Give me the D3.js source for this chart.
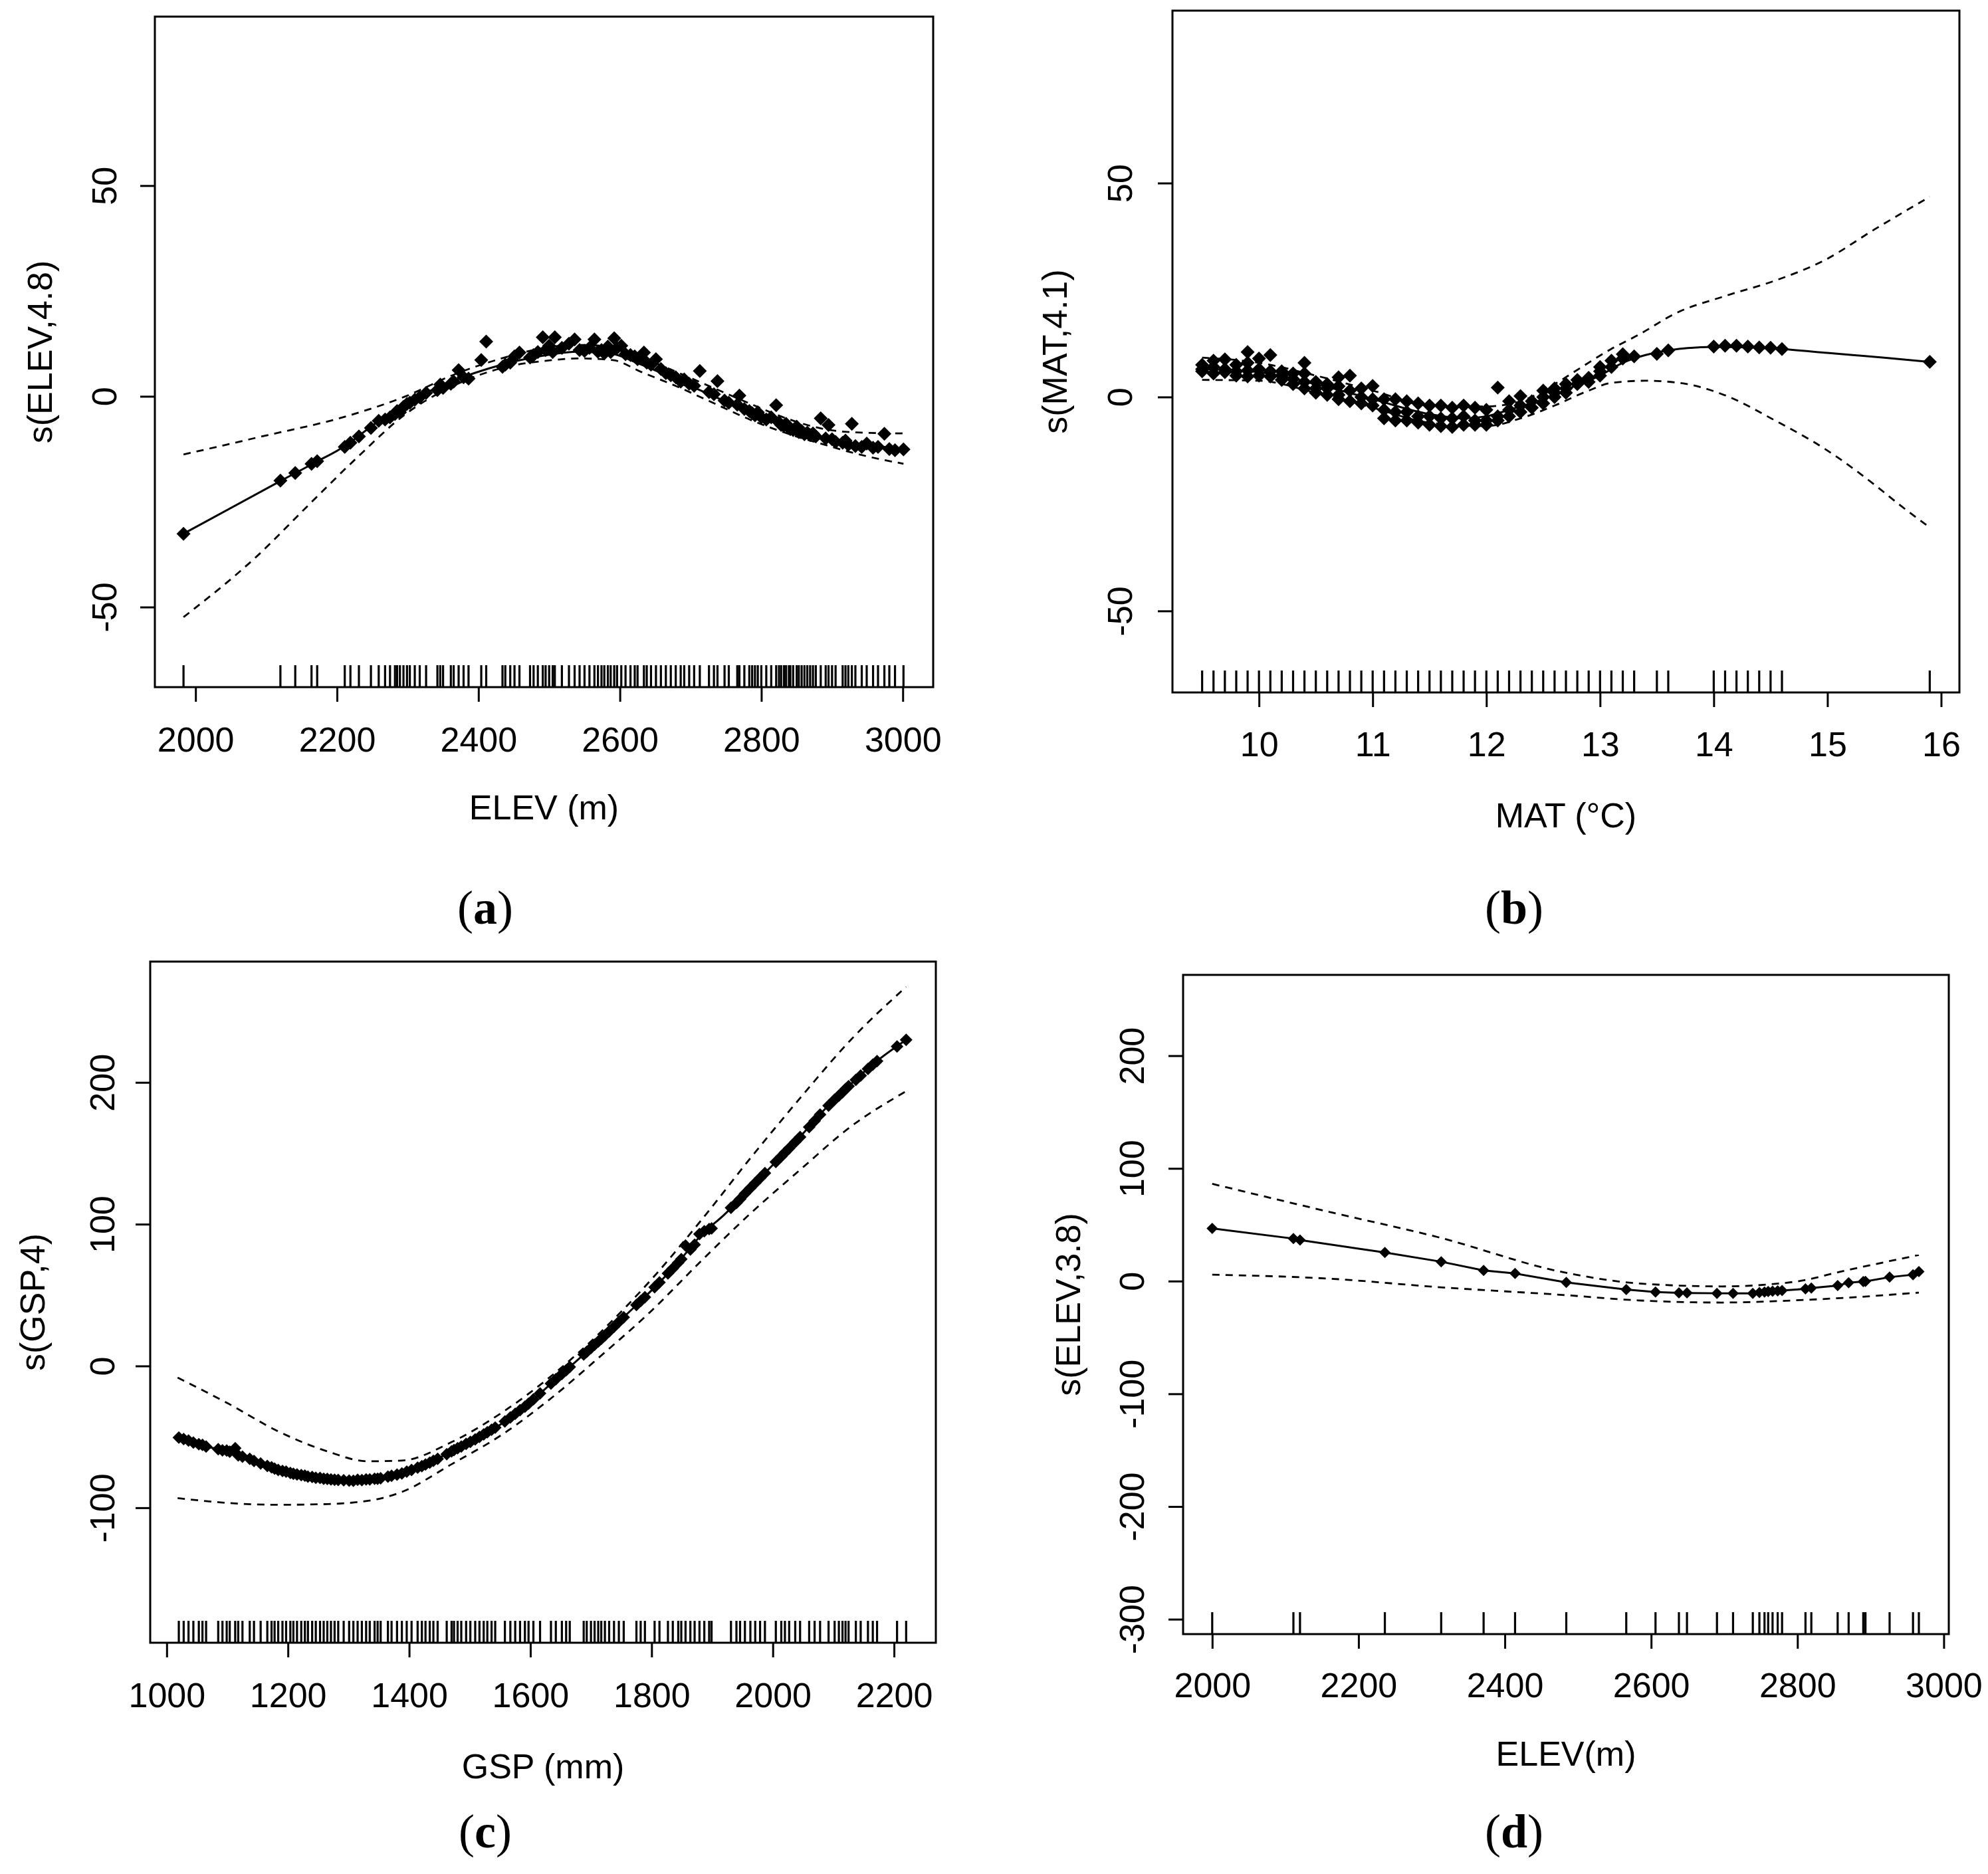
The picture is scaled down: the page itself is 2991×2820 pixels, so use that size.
<!DOCTYPE html>
<html><head><meta charset="utf-8">
<script src="https://cdn.jsdelivr.net/npm/d3@7"></script>
<style>body{margin:0;background:#fff}</style>
</head><body>
<svg id="chart" width="2991" height="2820"></svg>
<script>
// ---------------- DATA ----------------
// (a) ELEV partial effect: points [ELEV, s(ELEV)]
const ptsA = [[1983,-32.6],[2120,-20.0],[2141,-18.2],[2164,-16.0],[2172,-15.4],[2211,-12.0],[2219,-11.0],[2231,-9.5],[2248,-7.5],[2259,-5.8],[2268,-5.5],[2275,-5.0],[2282,-4.2],[2285,-3.5],[2289,-3.8],[2294,-2.5],[2299,-1.8],[2303,-1.5],[2310,-0.8],[2317,-0.2],[2326,0.8],[2342,1.5],[2346,2.8],[2350,2.0],[2361,3.0],[2365,3.5],[2372,6.2],[2379,4.5],[2386,4.2],[2404,8.6],[2411,13.0],[2434,7.0],[2438,7.5],[2445,8.0],[2451,9.5],[2458,10.4],[2473,9.2],[2478,9.8],[2484,10.5],[2491,14.0],[2495,11.0],[2500,12.0],[2505,10.5],[2508,14.0],[2518,11.5],[2528,12.5],[2536,13.5],[2543,11.0],[2550,10.8],[2557,11.5],[2564,13.5],[2569,10.6],[2574,11.0],[2578,10.2],[2583,11.8],[2587,10.5],[2592,13.8],[2596,11.5],[2602,12.0],[2608,10.0],[2615,9.8],[2621,9.5],[2625,8.8],[2634,10.4],[2638,8.0],[2644,7.5],[2651,8.8],[2658,6.5],[2665,5.5],[2672,5.0],[2679,4.5],[2686,3.5],[2691,4.0],[2698,3.0],[2705,2.5],[2713,6.0],[2726,1.0],[2733,0.5],[2738,3.6],[2748,-1.0],[2754,-1.5],[2766,-2.0],[2769,0.2],[2776,-3.0],[2783,-3.5],[2787,-4.0],[2791,-4.5],[2795,-3.8],[2800,-5.0],[2807,-5.5],[2814,-5.0],[2821,-2.1],[2825,-6.2],[2828,-6.8],[2832,-7.0],[2835,-6.5],[2839,-7.5],[2841,-7.8],[2845,-8.0],[2850,-7.2],[2853,-8.5],[2857,-8.2],[2861,-9.0],[2865,-8.6],[2869,-9.2],[2873,-8.8],[2877,-9.5],[2884,-5.2],[2891,-10.0],[2895,-6.8],[2900,-10.2],[2905,-10.8],[2915,-11.0],[2919,-10.5],[2923,-11.5],[2928,-6.5],[2933,-11.8],[2942,-12.0],[2949,-11.2],[2958,-12.2],[2965,-12.0],[2974,-8.9],[2981,-12.5],[2989,-12.8],[3001,-12.6]];
const fitA = [[1983,-32.6],[2120,-20.1],[2169,-15.7],[2214,-11.5],[2248,-7.2],[2297,-1.6],[2338,1.8],[2394,5.5],[2435,7.6],[2505,10.0],[2539,10.6],[2588,10.1],[2629,7.6],[2678,4.1],[2733,0.0],[2782,-3.7],[2837,-7.3],[2886,-9.6],[2934,-11.2],[3001,-12.4]];
const upperA = [[1983,-13.8],[2089,-9.7],[2214,-4.7],[2297,0.0],[2366,5.2],[2435,9.1],[2505,11.8],[2540,12.2],[2590,11.8],[2630,9.3],[2680,5.8],[2735,1.8],[2785,-1.8],[2840,-5.5],[2890,-7.8],[2940,-8.6],[3001,-8.8]];
const lowerA = [[1983,-52.4],[2089,-37.6],[2158,-26.1],[2228,-14.6],[2297,-4.2],[2366,2.6],[2435,6.8],[2505,8.6],[2540,9.0],[2590,8.6],[2630,5.8],[2680,2.4],[2735,-1.8],[2785,-5.6],[2840,-9.0],[2890,-11.5],[2934,-13.6],[3001,-16.0]];

// (b) MAT partial effect
const ptsB = [[9.5,7.5],[9.5,6.5],[9.5,6.0],[9.6,8.5],[9.6,7.0],[9.6,5.5],[9.7,8.8],[9.7,6.5],[9.7,5.8],[9.8,7.5],[9.8,6.0],[9.8,5.0],[9.9,10.5],[9.9,8.0],[9.9,6.2],[9.9,4.8],[10.0,9.0],[10.0,6.5],[10.0,5.0],[10.1,9.8],[10.1,6.0],[10.1,4.8],[10.2,6.0],[10.2,5.0],[10.2,4.0],[10.3,5.5],[10.3,4.2],[10.3,3.0],[10.4,8.0],[10.4,5.5],[10.4,3.5],[10.4,2.0],[10.5,3.5],[10.5,2.0],[10.5,1.0],[10.6,3.0],[10.6,2.0],[10.6,0.5],[10.7,4.6],[10.7,2.5],[10.7,0.5],[10.7,-0.5],[10.8,5.0],[10.8,1.5],[10.8,-1.0],[10.9,2.0],[10.9,0.0],[10.9,-1.5],[11.0,2.6],[11.0,-0.5],[11.0,-2.0],[11.1,-0.5],[11.1,-3.0],[11.1,-5.0],[11.2,-0.5],[11.2,-3.5],[11.2,-5.5],[11.3,-1.0],[11.3,-3.5],[11.3,-5.5],[11.4,-1.5],[11.4,-4.5],[11.4,-6.0],[11.5,-2.0],[11.5,-4.5],[11.5,-6.5],[11.6,-2.0],[11.6,-5.0],[11.6,-6.8],[11.7,-2.5],[11.7,-5.0],[11.7,-7.0],[11.8,-2.0],[11.8,-4.5],[11.8,-6.5],[11.9,-2.5],[11.9,-5.5],[11.9,-6.5],[12.0,-3.0],[12.0,-5.5],[12.0,-6.5],[12.1,2.2],[12.1,-4.5],[12.1,-5.5],[12.2,-1.0],[12.2,-3.0],[12.2,-4.5],[12.3,0.2],[12.3,-2.0],[12.3,-3.5],[12.4,-1.0],[12.4,-2.5],[12.5,1.5],[12.5,0.0],[12.5,-1.5],[12.6,2.0],[12.6,1.0],[12.6,0.0],[12.7,3.0],[12.7,2.0],[12.7,1.0],[12.8,4.0],[12.8,3.0],[12.9,4.5],[12.9,3.5],[13.0,7.0],[13.0,6.0],[13.0,5.0],[13.1,8.5],[13.1,7.0],[13.2,10.0],[13.2,9.0],[13.3,9.5],[13.5,10.1],[13.6,10.9],[14.0,11.8],[14.1,12.0],[14.2,12.0],[14.3,11.8],[14.4,11.6],[14.5,11.5],[14.6,11.2],[15.9,8.2]];
const fitB = [[9.5,6.5],[10.0,5.8],[10.5,3.0],[11.0,-0.5],[11.5,-4.0],[11.8,-5.0],[12.0,-4.5],[12.2,-3.0],[12.5,-0.5],[12.8,2.8],[13.0,5.0],[13.2,8.0],[13.4,9.8],[13.6,10.9],[14.0,11.7],[14.3,11.6],[14.6,11.2],[15.0,10.3],[15.5,9.2],[15.9,8.2]];
const upperB = [[9.5,9.2],[10.0,8.0],[10.5,5.0],[11.0,1.5],[11.5,-2.0],[12.0,-2.2],[12.3,-1.0],[12.6,3.0],[12.78,6.0],[13.09,11.1],[13.35,14.7],[13.66,19.5],[14.1,23.6],[14.54,27.2],[14.97,31.9],[15.41,39.1],[15.9,46.8]];
const lowerB = [[9.5,4.0],[10.0,3.8],[10.5,1.0],[11.0,-2.5],[11.5,-6.0],[12.0,-6.8],[12.3,-5.0],[12.6,-2.0],[12.9,1.5],[13.1,3.3],[13.4,3.8],[13.7,3.3],[14.1,0.4],[14.54,-5.5],[14.97,-12.0],[15.41,-20.4],[15.63,-25.1],[15.9,-30.5]];

// (c) GSP partial effect
const ptsC = [[1020,-50.5],[1028,-51.6],[1036,-52.6],[1044,-54.0],[1053,-55.2],[1059,-55.6],[1065,-56.8],[1085,-58.7],[1092,-59.5],[1099,-59.6],[1104,-60.5],[1113,-58.0],[1118,-63.0],[1125,-64.0],[1137,-65.5],[1144,-67.0],[1155,-68.8],[1166,-70.5],[1173,-71.5],[1178,-72.4],[1184,-73.3],[1191,-74.0],[1197,-74.5],[1204,-75.5],[1209,-76.0],[1215,-76.5],[1222,-77.0],[1228,-77.3],[1233,-78.0],[1240,-78.3],[1246,-78.8],[1253,-79.0],[1259,-79.5],[1265,-79.7],[1271,-80.0],[1277,-80.2],[1283,-80.4],[1292,-80.6],[1301,-80.8],[1308,-81.0],[1315,-80.2],[1322,-80.5],[1329,-80.0],[1335,-80.0],[1343,-79.5],[1348,-79.6],[1353,-79.2],[1365,-78.0],[1371,-77.5],[1380,-76.6],[1388,-75.8],[1396,-74.5],[1404,-73.3],[1414,-71.7],[1421,-70.6],[1427,-69.5],[1434,-68.2],[1440,-66.9],[1447,-65.5],[1462,-62.2],[1470,-60.2],[1474,-59.3],[1480,-58.0],[1486,-56.8],[1494,-55.0],[1501,-53.5],[1509,-51.8],[1516,-50.0],[1523,-48.3],[1529,-46.7],[1536,-45.0],[1542,-43.5],[1558,-39.1],[1567,-36.3],[1575,-33.7],[1583,-31.2],[1591,-28.7],[1597,-26.6],[1605,-23.5],[1616,-19.3],[1634,-12.4],[1642,-9.4],[1652,-5.6],[1659,-3.0],[1665,-0.7],[1688,8.1],[1693,10.0],[1700,12.7],[1706,15.0],[1712,17.2],[1717,19.1],[1723,21.6],[1730,24.4],[1738,27.7],[1746,31.0],[1754,34.3],[1775,43.0],[1782,45.8],[1789,48.5],[1805,55.5],[1813,59.0],[1827,65.3],[1835,68.8],[1844,72.9],[1849,75.4],[1856,85.0],[1864,82.2],[1871,85.5],[1879,93.0],[1887,95.0],[1895,96.5],[1899,97.0],[1931,111.5],[1940,115.0],[1946,117.7],[1954,121.5],[1963,125.5],[1971,129.0],[1979,132.5],[1987,136.0],[2005,143.9],[2014,147.8],[2020,150.5],[2027,153.5],[2037,158.0],[2045,161.5],[2060,168.5],[2069,172.8],[2078,177.3],[2092,183.6],[2102,187.8],[2109,190.6],[2115,193.0],[2120,195.3],[2125,197.3],[2137,201.8],[2145,204.8],[2157,209.5],[2165,212.6],[2172,215.0],[2205,225.3],[2220,230.0]];
const fitC = [[1020,-50.5],[1060,-56.3],[1101,-60.2],[1142,-66.7],[1183,-73.2],[1224,-77.1],[1265,-79.7],[1306,-81.0],[1347,-79.7],[1388,-75.8],[1429,-69.3],[1470,-60.2],[1512,-51.1],[1553,-40.7],[1594,-27.7],[1635,-12.1],[1676,3.5],[1717,19.1],[1758,36.0],[1799,52.9],[1840,71.1],[1881,91.9],[1922,107.5],[1963,125.7],[2005,143.9],[2046,162.1],[2087,181.6],[2128,198.5],[2169,214.1],[2220,230.0]];
const upperC = [[1018,-8.2],[1101,-26.4],[1183,-45.9],[1265,-60.2],[1331,-67.2],[1388,-66.7],[1470,-53.7],[1553,-32.9],[1635,-6.9],[1717,24.3],[1799,60.7],[1881,102.3],[1963,146.5],[2046,189.4],[2128,229.7],[2220,267.4]];
const lowerC = [[1018,-93.2],[1101,-96.6],[1183,-97.9],[1265,-97.4],[1347,-94.0],[1388,-88.8],[1470,-69.3],[1553,-48.5],[1635,-22.5],[1717,7.4],[1799,38.6],[1881,73.7],[1963,107.5],[2046,138.7],[2128,168.6],[2218,193.3]];

// (d) ELEV partial effect (second model)
const ptsD = [[2000,46.8],[2111,37.7],[2120,36.4],[2236,25.4],[2313,17.2],[2371,9.5],[2414,6.8],[2484,-1.2],[2566,-7.5],[2606,-9.7],[2638,-10.5],[2649,-10.5],[2690,-10.8],[2712,-10.8],[2739,-10.8],[2748,-10.2],[2755,-9.7],[2760,-9.2],[2766,-8.9],[2773,-8.6],[2779,-8.3],[2811,-6.9],[2819,-6.1],[2855,-3.9],[2870,-1.5],[2890,-0.4],[2893,-0.3],[2926,3.5],[2958,5.7],[2966,8.4]];
const upperD = [[2000,86.3],[2162,61.1],[2308,39.1],[2482,7.6],[2582,-2.0],[2696,-4.7],[2796,-0.6],[2863,9.0],[2966,23.2]];
const lowerD = [[2000,5.7],[2162,2.1],[2308,-5.3],[2482,-12.4],[2582,-17.1],[2696,-19.0],[2796,-17.1],[2863,-14.9],[2966,-10.2]];

// tick values and labels
const xTicksA = [2000,2200,2400,2600,2800,3000], yTicksA = [-50,0,50];
const xTicksB = [10,11,12,13,14,15,16],           yTicksB = [-50,0,50];
const xTicksC = [1000,1200,1400,1600,1800,2000,2200], yTicksC = [-100,0,100,200];
const xTicksD = [2000,2200,2400,2600,2800,3000], yTicksD = [-300,-200,-100,0,100,200];
const xTitles = ["ELEV (m)","MAT (°C)","GSP (mm)","ELEV(m)"];
const yTitles = ["s(ELEV,4.8)","s(MAT,4.1)","s(GSP,4)","s(ELEV,3.8)"];
const panelTags = ["a","b","c","d"];

// ---------------- LAYOUT ----------------
const panels = [
  {pts:ptsA, fit:fitA, up:upperA, lo:lowerA, xt:xTicksA, yt:yTicksA,
   L:233, R:1404, T:25, B:1034, xd:[1942.5,3043], yd:[-69,90.1],
   xlabY:1112, xtitY:1214, ylabX:156, ytitX:59, tagX:730, tagY:1366, sym:21},
  {pts:ptsB, fit:fitB, up:upperB, lo:lowerB, xt:xTicksB, yt:yTicksB,
   L:1764, R:2948, T:16, B:1042, xd:[9.239,16.161], yd:[-69.05,90.3],
   xlabY:1119, xtitY:1226, ylabX:1684, ytitX:1586, tagX:2278, tagY:1366, sym:21},
  {pts:ptsC, fit:fitC, up:upperC, lo:lowerC, xt:xTicksC, yt:yTicksC,
   L:226, R:1408, T:1447, B:2472, xd:[972.8,2269], yd:[-195.2,285.2],
   xlabY:2550, xtitY:2657, ylabX:153, ytitX:48, tagX:730, tagY:2756, sym:19},
  {pts:ptsD, fit:null, up:upperD, lo:lowerD, xt:xTicksD, yt:yTicksD,
   L:1780, R:2932, T:1467, B:2459, xd:[1960.2,3006.9], yd:[-313.2,271.7],
   xlabY:2535, xtitY:2638, ylabX:1702, ytitX:1606, tagX:2278, tagY:2756, sym:17}
];

const svg = d3.select("#chart");
svg.append("rect").attr("width",2991).attr("height",2820).attr("fill","#fff");
const SANS = "'Liberation Sans', Arial, Helvetica, sans-serif";
const FS = 52;
const fmt = d => String(d);

panels.forEach((p, i) => {
  const x = d3.scaleLinear().domain(p.xd).range([p.L, p.R]);
  const y = d3.scaleLinear().domain(p.yd).range([p.B, p.T]);
  const g = svg.append("g");

  // rug
  const rugVals = Array.from(new Set(p.pts.map(d => d[0])));
  g.append("g").selectAll("line").data(rugVals).join("line")
    .attr("x1", d => x(d)).attr("x2", d => x(d))
    .attr("y1", p.B).attr("y2", p.B - 33)
    .attr("stroke", "#000").attr("stroke-width", 3.2);

  const line = d3.line().x(d => x(d[0])).y(d => y(d[1])).curve(d3.curveMonotoneX);
  // confidence bands
  [p.up, p.lo].forEach(band => {
    g.append("path").attr("d", line(band)).attr("fill","none")
      .attr("stroke","#000").attr("stroke-width",2.8).attr("stroke-dasharray","11,9");
  });
  // fitted smooth
  const fitData = p.fit ? p.fit : p.pts.slice().sort((a,b)=>a[0]-b[0]);
  g.append("path").attr("d", (p.fit ? line : d3.line().x(d=>x(d[0])).y(d=>y(d[1])))(fitData))
    .attr("fill","none").attr("stroke","#000").attr("stroke-width",3);

  // points (filled diamonds)
  const s = p.sym / Math.SQRT2;
  const sym = d3.symbol().type(d3.symbolSquare).size(s*s);
  g.append("g").selectAll("path").data(p.pts).join("path")
    .attr("d", sym)
    .attr("transform", d => `translate(${x(d[0])},${y(d[1])}) rotate(45)`)
    .attr("fill", "#000");

  // box
  g.append("rect").attr("x", p.L).attr("y", p.T)
    .attr("width", p.R - p.L).attr("height", p.B - p.T)
    .attr("fill","none").attr("stroke","#000").attr("stroke-width",3);

  // x axis
  const xa = g.append("g").attr("transform", `translate(0,${p.B})`)
    .call(d3.axisBottom(x).tickValues(p.xt).tickSize(22).tickSizeOuter(0).tickFormat(fmt));
  xa.select(".domain").remove();
  xa.selectAll(".tick line").attr("stroke","#000").attr("stroke-width",3);
  xa.selectAll(".tick text").attr("y", p.xlabY - p.B).attr("dy","0.36em")
    .attr("font-family", SANS).attr("font-size", FS).attr("fill","#000");

  // y axis
  const ya = g.append("g").attr("transform", `translate(${p.L},0)`)
    .call(d3.axisLeft(y).tickValues(p.yt).tickSize(22).tickSizeOuter(0).tickFormat(fmt));
  ya.select(".domain").remove();
  ya.selectAll(".tick line").attr("stroke","#000").attr("stroke-width",3);
  ya.selectAll(".tick text").attr("x",0).attr("y",0).attr("dy","0.36em")
    .attr("text-anchor","middle")
    .attr("transform", `translate(${p.ylabX - p.L},0) rotate(-90)`)
    .attr("font-family", SANS).attr("font-size", FS).attr("fill","#000");

  // titles
  g.append("text").attr("x", (p.L + p.R)/2).attr("y", p.xtitY).attr("dy","0.36em")
    .attr("text-anchor","middle").attr("font-family",SANS).attr("font-size",FS)
    .text(xTitles[i]);
  g.append("text").attr("transform", `translate(${p.ytitX},${(p.T + p.B)/2}) rotate(-90)`)
    .attr("dy","0.36em").attr("text-anchor","middle").attr("font-family",SANS).attr("font-size",FS)
    .text(yTitles[i]);

  // panel tag
  const t = g.append("text").attr("x", p.tagX).attr("y", p.tagY).attr("dy","0.33em")
    .attr("text-anchor","middle").attr("font-family","'Liberation Serif','DejaVu Serif',serif")
    .attr("font-size",72);
  t.append("tspan").text("(");
  t.append("tspan").attr("font-weight","bold").text(panelTags[i]);
  t.append("tspan").text(")");
});
</script>
</body></html>
